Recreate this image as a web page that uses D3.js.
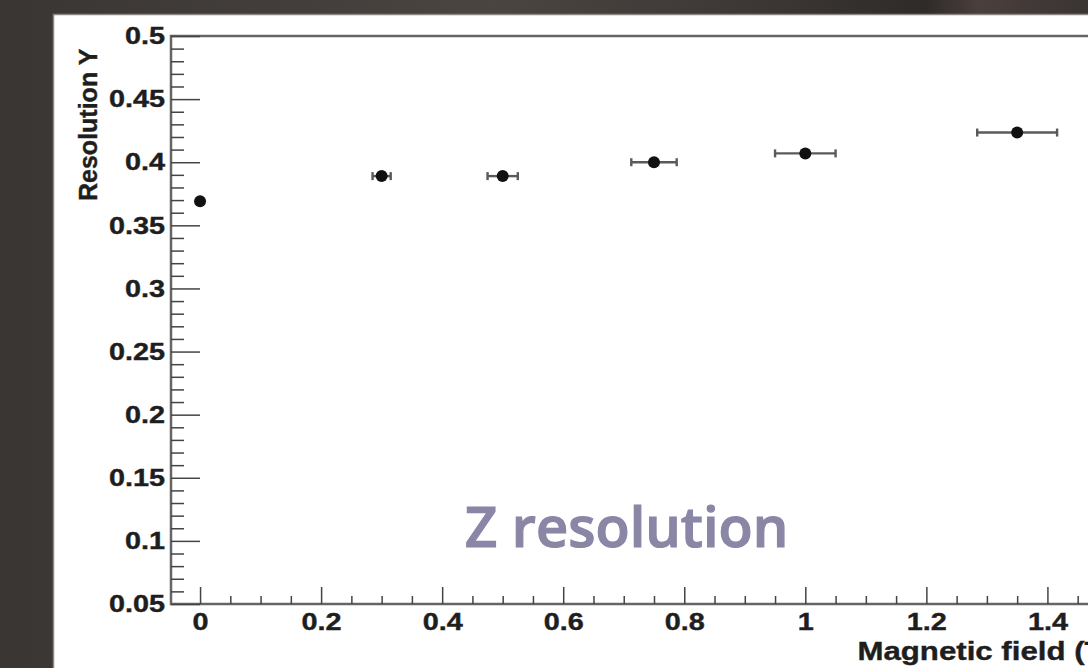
<!DOCTYPE html>
<html lang="en">
<head>
  <meta charset="UTF-8">
  <title>Z resolution vs magnetic field</title>
  <script src="https://d3js.org/d3.v7.min.js"></script>
  <style>
    html, body { margin: 0; padding: 0; background: #3f3a38; overflow: hidden; }
    svg { display: block; }
  </style>
</head>
<body>
<svg width="1088" height="668"></svg>
<script>
  // data
  var fields = [0, 0.3, 0.5, 0.75, 1.0, 1.35];          // Tesla
  var resolution = [0.369, 0.389, 0.389, 0.400, 0.407, 0.4235];
  var fieldErr = [0, 0.015, 0.025, 0.0375, 0.05, 0.066];
  var yMajor = [0.05, 0.1, 0.15, 0.2, 0.25, 0.3, 0.35, 0.4, 0.45, 0.5];
  var xMajor = [0, 0.2, 0.4, 0.6, 0.8, 1, 1.2, 1.4];

  var svg = d3.select('svg');
  var W = 1088, H = 668;

  // dark textured backdrop
  var defs = svg.append('defs');
  var bg = defs.append('linearGradient').attr('id', 'bg')
    .attr('x1', 0).attr('x2', 1).attr('y1', 0).attr('y2', 0);
  [['0%', '#3a3634'], ['30%', '#443f3c'], ['45%', '#4b4541'], ['70%', '#3c3735'],
   ['85%', '#2f2b29'], ['90%', '#4a3f3d'], ['100%', '#3a3432']].forEach(function (s) {
    bg.append('stop').attr('offset', s[0]).attr('stop-color', s[1]);
  });
  svg.append('rect').attr('width', W).attr('height', H).attr('fill', 'url(#bg)');

  // white pad
  svg.append('rect')
    .attr('x', 53.5).attr('y', 14.5)
    .attr('width', W).attr('height', H)
    .attr('fill', '#fff')
    .attr('stroke', '#8a8684').attr('stroke-width', 1.5);

  var x = d3.scaleLinear().domain([-0.048, 1.51]).range([171, 1114]);
  var y = d3.scaleLinear().domain([0.05, 0.5]).range([604, 36]);

  var yMinor = d3.range(5, 51).map(function (i) { return i / 100; })
    .filter(function (v) { return Math.round(v * 100) % 5 !== 0; });
  var xMinor = d3.range(0, 31).map(function (i) { return i * 0.05; })
    .filter(function (v) { return Math.round(v * 100) % 20 !== 0 && v < 1.51; });

  var fmt = function (d) { return String(+d.toFixed(2)); };

  // frame
  svg.append('rect')
    .attr('x', x.range()[0]).attr('y', y.range()[1])
    .attr('width', x.range()[1] - x.range()[0])
    .attr('height', y.range()[0] - y.range()[1])
    .attr('fill', 'none')
    .attr('stroke', '#666').attr('stroke-width', 2.5);

  // y axis
  var gy = svg.append('g').attr('transform', 'translate(' + x.range()[0] + ',0)');
  gy.append('g')
    .call(d3.axisLeft(y).tickValues(yMinor).tickSize(-13).tickSizeOuter(0).tickFormat(''))
    .call(function (g) { g.select('.domain').remove(); });
  gy.append('g')
    .call(d3.axisLeft(y).tickValues(yMajor).tickSize(-29).tickSizeOuter(0).tickPadding(6).tickFormat(fmt))
    .call(function (g) { g.select('.domain').remove(); });

  // x axis
  var gx = svg.append('g').attr('transform', 'translate(0,' + y.range()[0] + ')');
  gx.append('g')
    .call(d3.axisBottom(x).tickValues(xMinor).tickSize(-8).tickSizeOuter(0).tickFormat(''))
    .call(function (g) { g.select('.domain').remove(); });
  gx.append('g')
    .call(d3.axisBottom(x).tickValues(xMajor).tickSize(-17).tickSizeOuter(0).tickPadding(9).tickFormat(fmt))
    .call(function (g) { g.select('.domain').remove(); });

  svg.selectAll('.tick line').attr('stroke', '#444').attr('stroke-width', 1.5);
  svg.selectAll('.tick text')
    .attr('fill', '#1e1e1e')
    .attr('stroke', '#1e1e1e').attr('stroke-width', 0.4)
    .style('font-family', '"Liberation Sans", Arial, sans-serif')
    .style('font-weight', 'bold')
    .style('font-size', '24px');

  // axis titles
  svg.append('text')
    .attr('class', 'stretch')
    .attr('x', x.range()[1]).attr('y', 660)
    .attr('text-anchor', 'end')
    .attr('fill', '#1e1e1e')
    .attr('stroke', '#1e1e1e').attr('stroke-width', 0.4)
    .style('font-family', '"Liberation Sans", Arial, sans-serif')
    .style('font-weight', 'bold')
    .style('font-size', '26px')
    .text('Magnetic field (T)');

  svg.append('text')
    .attr('transform', 'translate(97,201) rotate(-90)')
    .attr('fill', '#1e1e1e')
    .attr('stroke', '#1e1e1e').attr('stroke-width', 0.4)
    .style('font-family', '"Liberation Sans", Arial, sans-serif')
    .style('font-weight', 'bold')
    .style('font-size', '25px')
    .text('Resolution Y');

  // the scan looks stretched sideways, so widen the glyphs a bit
  svg.selectAll('.tick text, text.stretch').each(function () {
    var len = this.getComputedTextLength();
    if (len > 0) {
      d3.select(this).attr('textLength', len * 1.2).attr('lengthAdjust', 'spacingAndGlyphs');
    }
  });

  // points with horizontal error bars
  var pts = fields.map(function (f, i) {
    return {x: f, y: resolution[i], ex: fieldErr[i]};
  });

  var bars = svg.append('g').attr('stroke', '#5a5a5a').attr('stroke-width', 2.4);
  pts.filter(function (d) { return d.ex > 0; }).forEach(function (d) {
    bars.append('line')
      .attr('x1', x(d.x - d.ex)).attr('x2', x(d.x + d.ex))
      .attr('y1', y(d.y)).attr('y2', y(d.y));
    [d.x - d.ex, d.x + d.ex].forEach(function (e) {
      bars.append('line')
        .attr('x1', x(e)).attr('x2', x(e))
        .attr('y1', y(d.y) - 4).attr('y2', y(d.y) + 4);
    });
  });

  svg.append('g').selectAll('circle')
    .data(pts)
    .join('circle')
    .attr('cx', function (d) { return x(d.x); })
    .attr('cy', function (d) { return y(d.y); })
    .attr('r', 6)
    .attr('fill', '#111');

  // slide annotation
  svg.append('text')
    .attr('x', 465).attr('y', 547)
    .attr('fill', '#8a86a6')
    .attr('stroke', '#8a86a6').attr('stroke-width', 1.2)
    .style('font-family', '"Open Sans", sans-serif')
    .style('font-weight', 600)
    .style('font-size', '56px')
    .text('Z resolution');
</script>
</body>
</html>
